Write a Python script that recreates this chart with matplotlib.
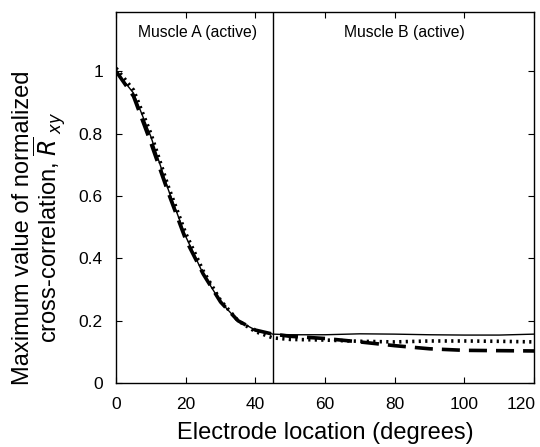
import numpy as np
import matplotlib
matplotlib.use('Agg')
import matplotlib.pyplot as plt

plt.rcParams['font.family'] = ['Liberation Sans', 'DejaVu Sans']

# electrode location (degrees)
angle = [0, 5, 10, 15, 20, 25, 30, 35, 40, 45, 50, 60, 70, 80, 90, 100, 110, 120]

solid_vals = [1.00, 0.93, 0.79, 0.62, 0.47, 0.35, 0.26, 0.20, 0.17, 0.157,
              0.155, 0.155, 0.158, 0.157, 0.155, 0.154, 0.154, 0.157]
dotted_vals = [1.01, 0.94, 0.80, 0.63, 0.48, 0.36, 0.265, 0.20, 0.165, 0.145,
               0.140, 0.138, 0.134, 0.132, 0.135, 0.135, 0.134, 0.132]
dashed_vals = [1.00, 0.92, 0.77, 0.61, 0.46, 0.35, 0.26, 0.20, 0.17, 0.157,
               0.150, 0.143, 0.132, 0.120, 0.110, 0.105, 0.104, 0.103]

boundary = 45
labels = ['Muscle A (active)', 'Muscle B (active)']
xticks = [0, 20, 40, 60, 80, 100, 120]
yticks = [0, 0.2, 0.4, 0.6, 0.8, 1]

fig = plt.figure(figsize=(5.4, 4.47), dpi=100)
ax = fig.add_axes([0.215, 0.143, 0.774, 0.830])

ax.plot(angle, solid_vals, color='black', lw=1.0, ls='-')
ax.plot(angle, dotted_vals, color='black', lw=2.6, ls=(0, (0.6, 1.2)))
ax.plot(angle, dashed_vals, color='black', lw=2.6, ls=(0, (5, 2.5)))

ax.axvline(boundary, color='black', lw=1.0)

ax.text(23.4, 1.125, labels[0], ha='center', va='center', fontsize=11.3)
ax.text(82.8, 1.125, labels[1], ha='center', va='center', fontsize=11.3)

ax.set_xlim(0, 120)
ax.set_ylim(0, 1.19)
ax.set_xticks(xticks)
# last label is drawn by hand, nudged left so it stays inside the figure
ax.set_xticklabels([str(t) for t in xticks[:-1]] + [''])
ax.set_yticks(yticks)
ax.set_yticklabels(['0', '0.2', '0.4', '0.6', '0.8', '1'])
ax.tick_params(direction='in', top=True, right=True, labelsize=12.5, length=4)
ax.tick_params(axis='y', pad=9.5)
ax.tick_params(axis='x', pad=10)
ax.annotate(str(xticks[-1]), xy=(xticks[-1], 0), xycoords=('data', 'axes fraction'),
            xytext=(-9, -10), textcoords='offset points',
            ha='center', va='top', fontsize=12.5)

ax.set_xlabel('Electrode location (degrees)', fontsize=17, labelpad=7)
ax.set_ylabel('Maximum value of normalized\ncross-correlation, $\\overline{R}_{\\ xy}$',
              fontsize=17, linespacing=0.9)
ax.yaxis.set_label_coords(-0.115, 0.42)

for s in ax.spines.values():
    s.set_linewidth(1.0)

plt.savefig('out.png', dpi=100)
